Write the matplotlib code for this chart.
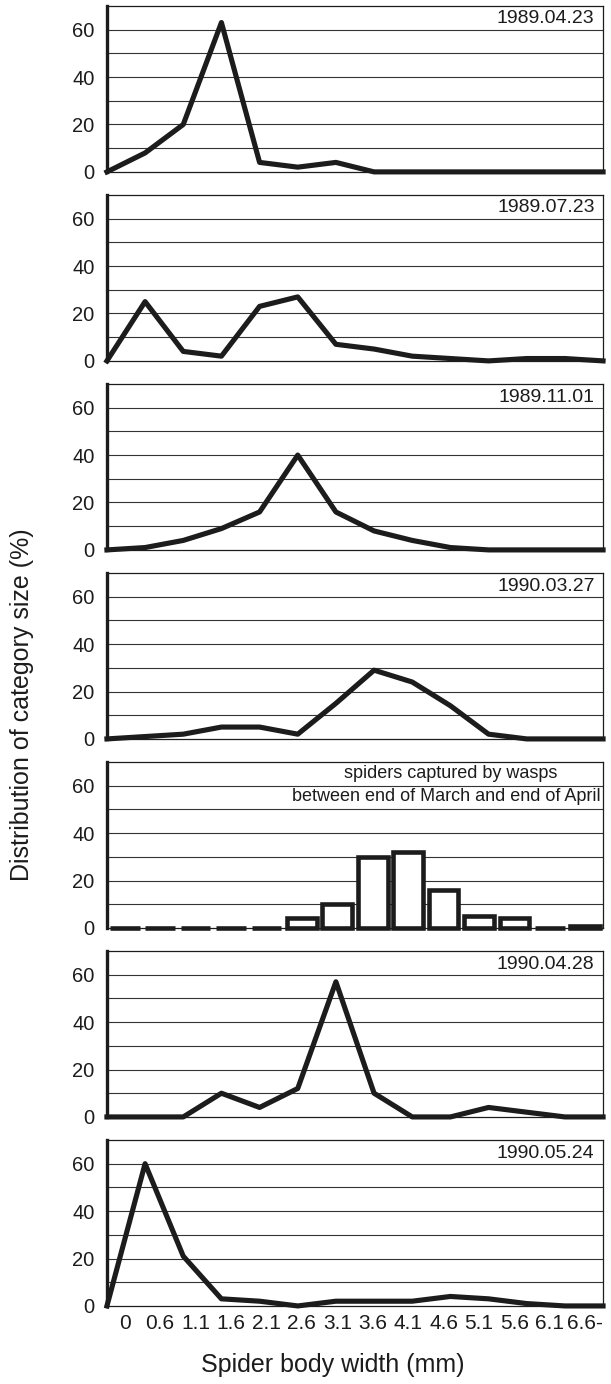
import numpy as np
import matplotlib
matplotlib.use("Agg")
import matplotlib.pyplot as plt
import matplotlib.transforms as mtransforms

plt.rcParams['font.family'] = ['Liberation Sans', 'DejaVu Sans']

# Body width classes (mm)
size_labels = ["0", "0.6", "1.1", "1.6", "2.1", "2.6", "3.1",
               "3.6", "4.1", "4.6", "5.1", "5.6", "6.1", "6.6-"]

# Distribution of category size (%) per sampling date
d_19890423 = [0, 8, 20, 63, 4, 2, 4, 0, 0, 0, 0, 0, 0, 0]
d_19890723 = [0, 25, 4, 2, 23, 27, 7, 5, 2, 1, 0, 1, 1, 0]
d_19891101 = [0, 1, 4, 9, 16, 40, 16, 8, 4, 1, 0, 0, 0, 0]
d_19900327 = [0, 1, 2, 5, 5, 2, 15, 29, 24, 14, 2, 0, 0, 0]
wasp_prey = [0, 0, 0, 0, 0, 4, 10, 30, 32, 16, 5, 4, 0, 1]
d_19900428 = [0, 0, 0, 10, 4, 12, 57, 10, 0, 0, 4, 2, 0, 0]
d_19900524 = [0, 60, 21, 3, 2, 0, 2, 2, 2, 4, 3, 1, 0, 0]

panels = [
    ("1989.04.23", d_19890423, "line"),
    ("1989.07.23", d_19890723, "line"),
    ("1989.11.01", d_19891101, "line"),
    ("1990.03.27", d_19900327, "line"),
    ("spiders captured by wasps", wasp_prey, "bar"),
    ("1990.04.28", d_19900428, "line"),
    ("1990.05.24", d_19900524, "line"),
]

ink = "#1c1c1c"
n = len(size_labels)
x_bar = np.arange(n)
x_line = np.linspace(-0.5, n - 0.5, n)  # lines run edge to edge

fig = plt.figure(figsize=(6.11, 13.84), dpi=100)
axes = fig.subplots(7, 1, gridspec_kw=dict(left=0.175, right=0.987, top=0.9957,
                                          bottom=0.0564, hspace=0.139))

for ax, (label, vals, kind) in zip(axes, panels):
    ax.set_xlim(-0.5, n - 0.5)
    ax.set_ylim(0, 70)
    for y in range(10, 70, 10):
        ax.axhline(y, color="#333333", lw=0.8, zorder=1)
    ax.set_yticks([0, 20, 40, 60])
    ax.tick_params(axis="y", length=0, pad=9, labelsize=14.5, colors=ink)
    ax.tick_params(axis="x", length=0)
    ax.spines["left"].set_linewidth(2.4)
    for s in ("top", "right", "bottom"):
        ax.spines[s].set_linewidth(0.9)
    for s in ax.spines.values():
        s.set_color(ink)
    trans = mtransforms.blended_transform_factory(ax.transAxes, ax.transData)
    if kind == "line":
        ax.plot(x_line, vals, color=ink, lw=3.7, clip_on=False, zorder=3)
        ax.text(0.983, 64.5, label, transform=trans, ha="right", va="center",
                fontsize=14, color=ink)
    else:
        bars = ax.bar(x_bar, vals, width=0.84, facecolor="white", edgecolor=ink,
                      lw=3.3, zorder=3)
        for b in bars:
            b.set_clip_on(False)
            b.set_joinstyle("miter")
        ax.text(0.692, 65.3, label, transform=trans, ha="center", va="center",
                fontsize=13, color=ink)
        ax.text(0.996, 55.3, "between end of March and end of April",
                transform=trans, ha="right", va="center", fontsize=13, color=ink)
    ax.set_xticks(x_bar)
    ax.set_xticklabels([])

axes[-1].set_xticklabels(size_labels, fontsize=15, color=ink)
axes[-1].tick_params(axis="x", pad=6)

fig.text(0.036, 0.4906, "Distribution of category size (%)", rotation=90,
         ha="center", va="center", fontsize=18, color=ink)
fig.text(0.545, 0.0137, "Spider body width (mm)", ha="center", va="center",
         fontsize=18, color=ink)

fig.savefig("out.png", dpi=100)
